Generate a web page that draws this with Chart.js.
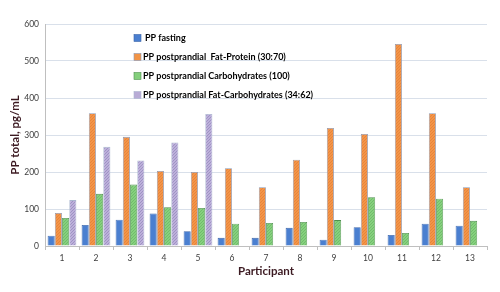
<!DOCTYPE html>
<html>
<head>
<meta charset="utf-8">
<script src="https://cdn.jsdelivr.net/npm/chart.js@4"></script>
<style>
  html, body { margin: 0; padding: 0; background: #fff; }
  #wrap { width: 500px; height: 292px; position: relative; }
</style>
</head>
<body>
<div id="wrap"><canvas id="chart"></canvas></div>
<script>
let participants = ['1', '2', '3', '4', '5', '6', '7', '8', '9', '10', '11', '12', '13'];
let fasting = [28, 57, 71, 88, 40, 22, 22, 49, 17, 51, 30, 60, 55];
let fatProtein = [89, 359, 295, 203, 200, 210, 159, 233, 319, 303, 546, 359, 159];
let carbs = [76, 141, 166, 105, 103, 60, 62, 65, 70, 132, 35, 128, 68];
let fatCarbs = [124, 268, 231, 280, 357, null, null, null, null, null, null, null, null];
let seriesNames = [
    'PP fasting',
    'PP postprandial  Fat-Protein (30:70)',
    'PP postprandial Carbohydrates (100)',
    'PP postprandial Fat-Carbohydrates (34:62)',
];

// small fill patterns, like the hatched fills of the original
function makePattern(base, dot) {
    const c = document.createElement('canvas');
    c.width = 3;
    c.height = 3;
    const g = c.getContext('2d');
    g.fillStyle = base;
    g.fillRect(0, 0, 3, 3);
    g.fillStyle = dot;
    g.fillRect(0, 0, 1, 1);
    g.fillRect(2, 1, 1, 1);
    g.fillRect(1, 2, 1, 1);
    return g.createPattern(c, 'repeat');
}

const swatches = ['#4a7fd0', '#f29446', '#84cf7c', '#b8abd6'];

const legendInside = {
    id: 'legendInside',
    afterDraw(chart) {
        const ctx = chart.ctx;
        const ys = [38, 57, 76, 95];
        ctx.save();
        ctx.font = 'bold 9px Lato';
        ctx.textBaseline = 'middle';
        chart.data.datasets.forEach((ds, i) => {
            ctx.fillStyle = swatches[i];
            ctx.fillRect(134, ys[i] - 3.5, 7, 7);
            ctx.strokeStyle = ds.borderColor;
            ctx.lineWidth = 0.6;
            ctx.strokeRect(134, ys[i] - 3.5, 7, 7);
            ctx.fillStyle = '#000';
            ctx.fillText(ds.label, i == 0 ? 145 : 143, ys[i]);
        });
        ctx.restore();
    }
};

function drawChart() {
    const ctx = document.getElementById('chart').getContext('2d');
    const data = {
        labels: participants,
        datasets: [{
                label: seriesNames[0],
                data: fasting,
                backgroundColor: '#4a7fd0',
                borderColor: '#3b64a8',
                borderWidth: 0.8,
            },
            {
                label: seriesNames[1],
                data: fatProtein,
                backgroundColor: makePattern('#f39548', '#e8843a'),
                borderColor: '#8a98b4',
                borderWidth: 0.8,
            },
            {
                label: seriesNames[2],
                data: carbs,
                backgroundColor: makePattern('#86d07e', '#70bd6a'),
                borderColor: '#4f8f4f',
                borderWidth: 0.8,
            },
            {
                label: seriesNames[3],
                data: fatCarbs,
                backgroundColor: makePattern('#bcb0da', '#9f92c4'),
                borderColor: '#aab6cf',
                borderWidth: 0.8,
            },
        ]
    };
    new Chart(ctx, {
        type: 'bar',
        data: data,
        plugins: [legendInside],
        options: {
            responsive: true,
            maintainAspectRatio: false,
            animation: false,
            layout: { padding: { left: 8, right: 13, top: 24, bottom: 14 } },
            datasets: {
                bar: { categoryPercentage: 0.85, barPercentage: 0.98 }
            },
            plugins: {
                legend: { display: false },
                tooltip: { enabled: false },
            },
            scales: {
                x: {
                    grid: {
                        offset: true,
                        drawOnChartArea: false,
                        tickLength: 4,
                        color: '#bfbfbf',
                    },
                    border: { color: '#bfbfbf' },
                    ticks: {
                        color: '#404040',
                        font: { family: 'Lato', size: 8.5 },
                        padding: 3,
                    },
                    title: {
                        display: true,
                        text: 'Participant',
                        color: '#3c1a22',
                        font: { family: 'Lato', size: 11.5, weight: 'bold' },
                        padding: { top: 2, bottom: 0 },
                    },
                    afterFit(scale) { scale.height = 32; },
                },
                y: {
                    min: 0,
                    max: 600,
                    grid: {
                        color: '#d9e0ea',
                        drawTicks: false,
                    },
                    border: { color: '#bfbfbf' },
                    ticks: {
                        stepSize: 100,
                        color: '#404040',
                        font: { family: 'Lato', size: 8.5 },
                        padding: 6,
                    },
                    title: {
                        display: true,
                        text: 'PP total, pg/mL',
                        color: '#3c1a22',
                        font: { family: 'Lato', size: 11.5, weight: 'bold' },
                        padding: { bottom: 4, top: 0 },
                    },
                    afterFit(scale) { scale.width = 37; },
                },
            },
        },
    });
}

drawChart();
</script>
</body>
</html>
